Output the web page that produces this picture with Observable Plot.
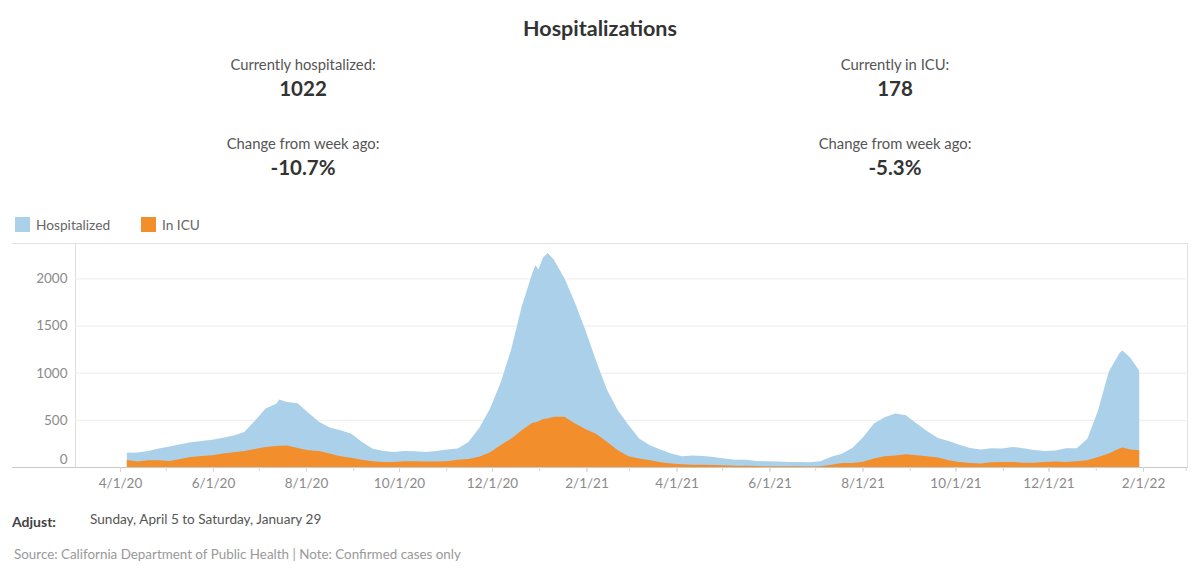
<!DOCTYPE html>
<html>
<head>
<meta charset="utf-8">
<script src="https://cdn.jsdelivr.net/npm/d3@7"></script>
<script src="https://cdn.jsdelivr.net/npm/@observablehq/plot@0.6"></script>
<style>
  html, body { margin: 0; padding: 0; background: #fff; }
  body { width: 1200px; height: 575px; position: relative; overflow: hidden; font-family: Lato, "Noto Sans", sans-serif; }
  .abs { position: absolute; white-space: nowrap; }
  .center { transform: translateX(-50%); text-align: center; }
  .title { font-size: 21.5px; font-weight: 700; color: #333; line-height: 24px; }
  .lab { font-size: 14.8px; color: #555; line-height: 18px; }
  .num { font-size: 20.5px; font-weight: 700; color: #333; line-height: 24px; }
  .leg { font-size: 13.7px; color: #666; line-height: 16px; }
  .sw { position: absolute; width: 15px; height: 15px; }
  #frame { position: absolute; left: 12px; top: 243px; width: 1175px; height: 223px; border-top: 1px solid #e2e2e2; border-bottom: 1px solid #c9c9c9; border-right: 1px solid #e2e2e2; }
  #vline { position: absolute; left: 75px; top: 243px; width: 0; height: 224px; border-left: 1px solid #dcdcdc; }
  #chart { position: absolute; left: 0; top: 236px; }
</style>
</head>
<body>
<div class="abs center title" style="left:600px; top:16px;">Hospitalizations</div>
<div class="abs center lab" style="left:303px; top:55px;">Currently hospitalized:</div>
<div class="abs center num" style="left:303px; top:76px;">1022</div>
<div class="abs center lab" style="left:303px; top:134px;">Change from week ago:</div>
<div class="abs center num" style="left:303px; top:155px;">-10.7%</div>
<div class="abs center lab" style="left:895px; top:55px;">Currently in ICU:</div>
<div class="abs center num" style="left:895px; top:76px;">178</div>
<div class="abs center lab" style="left:895px; top:134px;">Change from week ago:</div>
<div class="abs center num" style="left:895px; top:155px;">-5.3%</div>

<div class="sw" style="left:15px; top:217px; background:#abd0ea;"></div>
<div class="abs leg" style="left:36px; top:217px;">Hospitalized</div>
<div class="sw" style="left:141px; top:217px; background:#f28e2b;"></div>
<div class="abs leg" style="left:162px; top:217px;">In ICU</div>

<div id="frame"></div>
<div id="vline"></div>
<div id="chart"></div>

<div class="abs" style="left:12px; top:513px; font-size:14px; font-weight:700; color:#444; line-height:18px;">Adjust:</div>
<div class="abs" style="left:90px; top:511px; font-size:13.6px; color:#555; line-height:16px;">Sunday, April 5 to Saturday, January 29</div>
<div class="abs" style="left:14px; top:546px; font-size:13.4px; color:#999; line-height:16px;">Source: California Department of Public Health | Note: Confirmed cases only</div>

<script>
const dates = [
  "2020-04-05","2020-04-12","2020-04-19","2020-04-26","2020-05-03","2020-05-10","2020-05-17","2020-05-24","2020-05-31",
  "2020-06-07","2020-06-14","2020-06-21","2020-06-28","2020-07-05","2020-07-12","2020-07-14","2020-07-19","2020-07-26",
  "2020-08-02","2020-08-09","2020-08-16","2020-08-23","2020-08-30","2020-09-06","2020-09-13","2020-09-20","2020-09-27",
  "2020-10-04","2020-10-11","2020-10-18","2020-10-25","2020-11-01","2020-11-08","2020-11-15","2020-11-22","2020-11-29",
  "2020-12-06","2020-12-13","2020-12-20","2020-12-27","2020-12-29","2020-12-31","2021-01-03","2021-01-06","2021-01-10",
  "2021-01-17","2021-01-24","2021-01-31","2021-02-07","2021-02-14","2021-02-21","2021-02-28","2021-03-07","2021-03-14",
  "2021-03-21","2021-03-28","2021-04-04","2021-04-11","2021-04-18","2021-04-25","2021-05-02","2021-05-09","2021-05-16",
  "2021-05-23","2021-05-30","2021-06-06","2021-06-13","2021-06-20","2021-06-27","2021-07-04","2021-07-11","2021-07-18",
  "2021-07-25","2021-08-01","2021-08-08","2021-08-15","2021-08-22","2021-08-29","2021-09-05","2021-09-12","2021-09-19",
  "2021-09-26","2021-10-03","2021-10-10","2021-10-17","2021-10-24","2021-10-31","2021-11-07","2021-11-14","2021-11-21",
  "2021-11-28","2021-12-05","2021-12-12","2021-12-19","2021-12-26","2022-01-02","2022-01-09","2022-01-16","2022-01-18",
  "2022-01-23","2022-01-29"
];
const hospitalized = [
  150,153,170,195,218,240,262,276,290,
  310,335,370,490,620,670,715,690,675,
  575,480,420,390,355,268,195,170,160,
  170,167,160,170,185,195,266,410,612,
  887,1242,1702,2060,2140,2095,2220,2270,2200,
  2000,1740,1440,1117,816,603,444,302,231,
  185,142,113,121,117,106,89,78,78,
  64,60,57,53,53,50,60,110,140,
  205,319,461,528,568,550,461,380,307,
  277,236,201,185,200,195,213,200,181,
  170,174,200,199,300,600,1010,1206,1234,
  1160,1022
];
const inICU = [
  75,57,71,71,64,85,106,117,124,
  142,156,170,191,213,223,225,227,202,
  177,170,142,113,99,78,60,53,53,
  60,60,57,57,60,78,85,110,155,
  231,300,390,470,475,485,510,515,532,
  532,461,400,350,266,177,113,89,71,
  50,36,28,25,25,21,18,14,14,
  11,7,7,7,7,5,7,25,43,
  43,55,89,113,121,135,124,113,100,
  71,53,43,36,50,53,53,46,46,
  53,57,53,60,71,106,142,196,206,
  185,178
];
const yTicks = [0, 500, 1000, 1500, 2000];
const xTickLabels = ["2020-04-01","2020-06-01","2020-08-01","2020-10-01","2020-12-01","2021-02-01",
  "2021-04-01","2021-06-01","2021-08-01","2021-10-01","2021-12-01","2022-02-01"];
const xDomain = ["2020-03-02T12:00Z", "2022-03-02T12:00Z"];
const yMax = 2375;

const rows = dates.map((d, i) => ({date: new Date(d + "T12:00Z"), hosp: hospitalized[i], icu: inICU[i]}));
const domainX = xDomain.map(d => new Date(d));
const fmt = d3.utcFormat("%-m/%-d/%y");
const yFmt = d3.format("d");
const monthTicks = d3.utcMonth.range(domainX[0], domainX[1]);

const chart = Plot.plot({
  width: 1200,
  height: 264,
  marginTop: 7,
  marginBottom: 33,
  marginLeft: 75,
  marginRight: 12,
  style: {fontFamily: "Lato, 'Noto Sans', sans-serif", fontSize: "13.5px", background: "transparent", overflow: "visible"},
  x: {type: "utc", domain: domainX},
  y: {domain: [0, yMax]},
  marks: [
    Plot.gridY(yTicks.filter(t => t > 0), {stroke: "#ececec", strokeOpacity: 1}),
    Plot.areaY(rows, {x: "date", y: "hosp", fill: "#abd0ea", curve: "linear"}),
    Plot.areaY(rows, {x: "date", y: "icu", fill: "#f28e2b", curve: "linear"}),
    Plot.axisY(yTicks.filter(t => t > 0), {tickSize: 0, tickPadding: 8, fill: "#8a8a8a", tickFormat: yFmt, label: null}),
    Plot.axisY([0], {tickSize: 0, tickPadding: 8, fill: "#8a8a8a", tickFormat: yFmt, dy: -8, label: null}),
    Plot.axisX(monthTicks, {tickSize: 4, stroke: "#d6d6d6", tickFormat: () => "", label: null}),
    Plot.axisX(xTickLabels.map(d => new Date(d + "T00:00Z")), {tickSize: 5, tickPadding: 6, stroke: "#d6d6d6", fill: "#8a8a8a", tickFormat: fmt, label: null})
  ]
});
document.getElementById("chart").appendChild(chart);
</script>
</body>
</html>
